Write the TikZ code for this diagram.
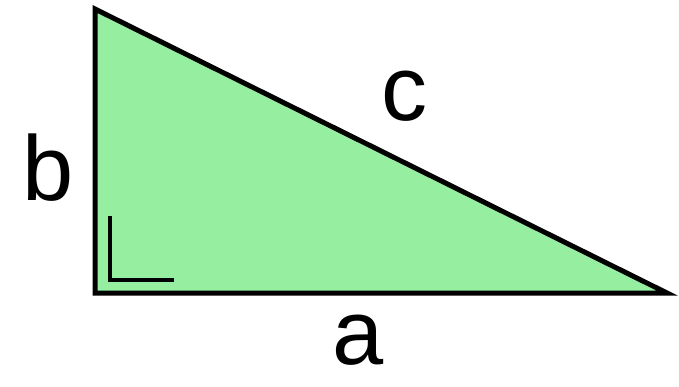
\documentclass[tikz,border=0pt]{standalone}
\usepackage{fontspec}
\setmainfont{Liberation Sans}
\definecolor{tri}{RGB}{150,238,160}
\begin{document}
\begin{tikzpicture}[x=1pt,y=-1pt,
  lbl/.style={inner sep=0pt,font=\fontsize{92}{92}\selectfont},
  edge/.style={line width=5pt,line join=miter,black}]
\useasboundingbox (0,0) rectangle (679,386);
\coordinate (A) at (95,9);
\coordinate (C) at (95,293);
\coordinate (B) at (667,293);
\fill[tri] (A) -- (C) -- (B) -- cycle;
\draw[edge] (A) -- (C) -- (B) -- cycle;
\coordinate (r1) at (110,216);
\coordinate (r2) at (110,280);
\coordinate (r3) at (174,280);
\draw[line width=4pt] (r1) -- (r2) -- (r3);
\node[lbl] (b) at (48,168) {b};
\node[lbl] (c) at (404,96) {c};
\node[lbl] (a) at (358,340) {a};
\end{tikzpicture}
\end{document}
